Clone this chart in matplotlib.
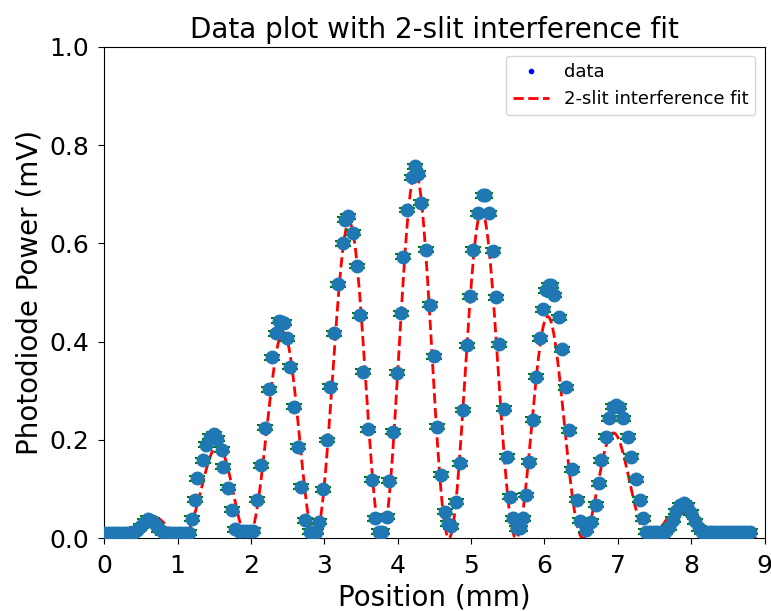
import numpy as np
import matplotlib.pyplot as plt

# measured positions (mm) and photodiode power (mV)
position = [
    0.00, 0.05, 0.10, 0.15, 0.20, 0.25, 0.30, 0.35,
    0.40, 0.45, 0.50, 0.55, 0.60, 0.65, 0.70, 0.75, 0.80,
    0.85, 0.90, 0.95, 1.00, 1.05, 1.10, 1.15,
    1.19, 1.23, 1.27, 1.34, 1.385, 1.44, 1.495, 1.54, 1.60, 1.62, 1.68, 1.745, 1.78,
    1.83, 1.88, 1.93, 1.98, 2.03,
    2.08, 2.135, 2.19, 2.25, 2.28, 2.335, 2.385, 2.42, 2.45, 2.485, 2.53, 2.59, 2.645,
    2.68, 2.73, 2.80, 2.85, 2.89, 2.93, 2.98, 3.04, 3.075, 3.13, 3.19, 3.25, 3.28,
    3.32, 3.39, 3.45, 3.48, 3.53, 3.60, 3.645, 3.69, 3.75, 3.78, 3.85, 3.88, 3.94,
    3.985, 4.04, 4.07, 4.13, 4.19, 4.235, 4.275, 4.32, 4.38, 4.44, 4.49, 4.53, 4.59,
    4.64, 4.69, 4.72, 4.79, 4.845, 4.89, 4.94, 4.98, 5.03, 5.095, 5.16, 5.19, 5.245,
    5.30, 5.335, 5.38, 5.445, 5.49, 5.53, 5.57, 5.63, 5.66, 5.71, 5.745, 5.79, 5.845,
    5.88, 5.935, 5.98, 6.025, 6.06, 6.095, 6.125, 6.20, 6.245, 6.30, 6.33, 6.38, 6.44,
    6.49, 6.57, 6.64, 6.70, 6.745, 6.775, 6.84, 6.875, 6.94, 6.98, 7.02, 7.07, 7.14,
    7.185, 7.245, 7.30, 7.345, 7.39,
    7.44, 7.49, 7.54, 7.59, 7.64,
    7.70, 7.75, 7.80, 7.85, 7.90, 7.95, 8.00, 8.05, 8.10, 8.15,
    8.20, 8.25, 8.30, 8.35, 8.40, 8.45, 8.50, 8.55, 8.60, 8.65, 8.70, 8.75, 8.80,
]
power = [
    0.011, 0.011, 0.011, 0.011, 0.011, 0.011, 0.011, 0.011,
    0.012, 0.017, 0.025, 0.034, 0.040, 0.036, 0.027, 0.018, 0.012,
    0.011, 0.011, 0.011, 0.011, 0.011, 0.011, 0.011,
    0.040, 0.078, 0.122, 0.159, 0.190, 0.207, 0.212, 0.203, 0.180, 0.146, 0.103, 0.058, 0.018,
    0.015, 0.015, 0.015, 0.015, 0.015,
    0.078, 0.149, 0.225, 0.303, 0.368, 0.417, 0.443, 0.440, 0.439, 0.407, 0.349, 0.268, 0.186,
    0.105, 0.037, 0.013, 0.013, 0.013, 0.034, 0.100, 0.200, 0.308, 0.417, 0.517, 0.600, 0.648,
    0.655, 0.622, 0.554, 0.454, 0.339, 0.222, 0.119, 0.041, 0.013, 0.013, 0.044, 0.117, 0.217,
    0.337, 0.458, 0.573, 0.668, 0.735, 0.757, 0.742, 0.683, 0.587, 0.475, 0.370, 0.227, 0.129,
    0.054, 0.030, 0.024, 0.074, 0.153, 0.261, 0.393, 0.492, 0.587, 0.661, 0.698, 0.698, 0.661,
    0.585, 0.490, 0.395, 0.264, 0.166, 0.085, 0.041, 0.020, 0.020, 0.041, 0.088, 0.156, 0.241,
    0.329, 0.407, 0.466, 0.505, 0.515, 0.515, 0.495, 0.450, 0.385, 0.307, 0.220, 0.140, 0.078,
    0.036, 0.017, 0.034, 0.068, 0.112, 0.159, 0.207, 0.244, 0.268, 0.271, 0.268, 0.244, 0.207,
    0.166, 0.120, 0.078, 0.041, 0.013,
    0.013, 0.013, 0.013, 0.013, 0.013,
    0.022, 0.038, 0.055, 0.067, 0.071, 0.066, 0.052, 0.035, 0.020, 0.013,
    0.013, 0.013, 0.013, 0.013, 0.013, 0.013, 0.013, 0.013, 0.013, 0.013, 0.013, 0.013, 0.013,
]
power_err = 0.005

# fit parameters (2-slit: sinc^2 envelope times cos^2 fringes)
I0 = 0.745
x_fringe = 4.24
fringe_spacing = 0.915
x_env = 4.30
env_rate = 0.68
fit_range = (0.0, 8.95)


def two_slit(x):
    u = env_rate * (x - x_env)
    env = np.sinc(u / np.pi) ** 2
    return I0 * env * np.cos(np.pi * (x - x_fringe) / fringe_spacing) ** 2


fig = plt.figure(figsize=(7.71, 6.11), dpi=100)
ax = fig.add_axes([0.1353, 0.119, 0.8563, 0.8044])

ax.plot(position, power, 'b.', label='data')
ax.errorbar(position, power, yerr=power_err, fmt='o', color='tab:blue', ecolor='green',
            capsize=6, markersize=9, elinewidth=1.5, capthick=1.5, zorder=3)
xfit = np.linspace(fit_range[0], fit_range[1], 600)
ax.plot(xfit, two_slit(xfit), 'r--', lw=2, label='2-slit interference fit', zorder=2)

ax.set_xlim(0, 9)
ax.set_ylim(0, 1.0)
ax.set_xticks(np.arange(0, 10, 1))
ax.set_xlabel('Position (mm)', fontsize=20)
ax.set_ylabel('Photodiode Power (mV)', fontsize=20)
ax.set_title('Data plot with 2-slit interference fit', fontsize=20)
ax.tick_params(labelsize=18, length=4, pad=7)
ax.legend(loc='upper right', fontsize=13)

fig.savefig('out.png', dpi=100)
